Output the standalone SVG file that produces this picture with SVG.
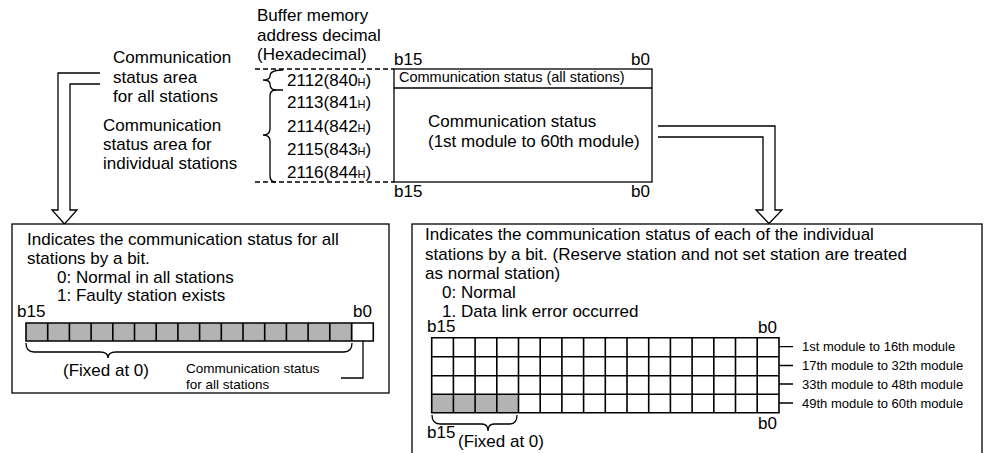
<svg xmlns="http://www.w3.org/2000/svg" width="984" height="453" viewBox="0 0 984 453">
<style>
text{font-family:"Liberation Sans",Arial,sans-serif;font-size:17px;fill:#000}
.s{font-size:14.5px}
.s2{font-size:13.5px}
.xs{font-size:13px}
.h{font-size:11px}
.box{fill:#fff;stroke:#000;stroke-width:1.3}
.ln{fill:none;stroke:#000;stroke-width:1.3}
.dash{fill:none;stroke:#000;stroke-width:1.3;stroke-dasharray:5 3}
.grid{fill:none;stroke:#000;stroke-width:1.6}
.g{fill:#b3b3b3}
.arr{fill:#fff;stroke:#000;stroke-width:1.3;stroke-linejoin:miter}
</style>

<g id="header">
<text x="257" y="21">Buffer memory</text>
<text x="257" y="41">address decimal</text>
<text x="257" y="60">(Hexadecimal)</text>
</g>

<g id="area-labels">
<text x="113" y="63">Communication</text>
<text x="113" y="83">status area</text>
<text x="113" y="102">for all stations</text>
<text x="103" y="131">Communication</text>
<text x="103" y="150">status area for</text>
<text x="103" y="169">individual stations</text>
<path class="ln" d="M283,70 Q270,70 270,76 Q270,80 263,80 Q270,80 270,84 Q270,90 276,90 H283"/>
<path class="ln" d="M276,90 Q270,90 270,96 V129 Q270,135 263,135 Q270,135 270,141 V176 Q270,182 276,182"/>
</g>

<g id="addresses">
<text x="287" y="86">2112(840<tspan class="h">H</tspan>)</text>
<text x="287" y="108">2113(841<tspan class="h">H</tspan>)</text>
<text x="287" y="132">2114(842<tspan class="h">H</tspan>)</text>
<text x="287" y="155">2115(843<tspan class="h">H</tspan>)</text>
<text x="287" y="178">2116(844<tspan class="h">H</tspan>)</text>
<line class="dash" x1="255" y1="69" x2="394" y2="69"/>
<line class="dash" x1="255" y1="182" x2="394" y2="182"/>
</g>

<g id="buffer-memory">
<rect class="box" x="394" y="69" width="258" height="113"/>
<line class="ln" x1="394" y1="88" x2="652" y2="88"/>
<text x="394" y="65">b15</text>
<text x="650" y="65" text-anchor="end">b0</text>
<text x="394" y="197">b15</text>
<text x="650" y="197" text-anchor="end">b0</text>
<text class="s" x="399" y="82">Communication status (all stations)</text>
<text x="428" y="127">Communication status</text>
<text x="428" y="147">(1st module to 60th module)</text>
</g>

<g id="connectors">
<path class="arr" d="M100,73 H58 V210 H52 L64.5,224 L77,210 H70 V84 H100"/>
<path class="arr" d="M658,126 H775 V210 H782 L769,223.5 L756,210 H763 V137 H658"/>
</g>

<g id="all-stations">
<rect class="box" x="12" y="224" width="377" height="169"/>
<text x="27" y="245">Indicates the communication status for all</text>
<text x="27" y="264">stations by a bit.</text>
<text x="57" y="283">0: Normal in all stations</text>
<text x="57" y="301">1: Faulty station exists</text>
<text x="17" y="317">b15</text>
<text x="372" y="317" text-anchor="end">b0</text>
<rect class="g" x="26" y="323" width="326.7" height="18"/>
<path class="grid" d="M26,323 H373.3 V341 H26 Z M47.7,323 V341 M69.4,323 V341 M91.1,323 V341 M112.8,323 V341 M134.5,323 V341 M156.2,323 V341 M177.9,323 V341 M199.6,323 V341 M221.3,323 V341 M243,323 V341 M264.7,323 V341 M286.4,323 V341 M308.1,323 V341 M329.8,323 V341 M351.6,323 V341"/>
<path class="ln" d="M26,343 Q26,352 34,352 H100 Q108,352 108,358 Q108,352 116,352 H344 Q352,352 352,343"/>
<path class="ln" d="M363,341 V378 H341"/>
<text x="63" y="376">(Fixed at 0)</text>
<text class="s2" x="186" y="373">Communication status</text>
<text class="s2" x="186" y="388.5">for all stations</text>
</g>

<g id="individual-stations">
<rect class="box" x="412" y="224" width="570" height="240"/>
<text x="425" y="240">Indicates the communication status of each of the individual</text>
<text x="425" y="260">stations by a bit. (Reserve station and not set station are treated</text>
<text x="425" y="279">as normal station)</text>
<text x="442" y="298">0: Normal</text>
<text x="442" y="317">1. Data link error occurred</text>
<text x="427" y="332">b15</text>
<text x="777" y="333" text-anchor="end">b0</text>
<rect class="g" x="431.7" y="394.3" width="86.8" height="18.4"/>
<path class="grid" d="M431.7,337.7 H779 V412.7 H431.7 Z M431.7,356.7 H779 M431.7,375.7 H779 M431.7,394.3 H779 M453.4,337.7 V412.7 M475.1,337.7 V412.7 M496.8,337.7 V412.7 M518.5,337.7 V412.7 M540.2,337.7 V412.7 M561.9,337.7 V412.7 M583.6,337.7 V412.7 M605.3,337.7 V412.7 M627,337.7 V412.7 M648.7,337.7 V412.7 M670.4,337.7 V412.7 M692.1,337.7 V412.7 M713.8,337.7 V412.7 M735.5,337.7 V412.7 M757.2,337.7 V412.7"/>
<path class="ln" d="M779,346.7 H793 M779,365.5 H793 M779,384 H793 M779,403 H793"/>
<text class="xs" x="802" y="351">1st module to 16th module</text>
<text class="xs" x="802" y="370">17th module to 32th module</text>
<text class="xs" x="802" y="388.5">33th module to 48th module</text>
<text class="xs" x="802" y="407.5">49th module to 60th module</text>
<text x="777" y="429" text-anchor="end">b0</text>
<path class="ln" d="M432,415 Q432,424 440,424 H482 Q488,424 488,431 Q488,424 494,424 H510 Q517,424 517,415"/>
<text x="427" y="438">b15</text>
<text x="458" y="447">(Fixed at 0)</text>
</g>
</svg>
